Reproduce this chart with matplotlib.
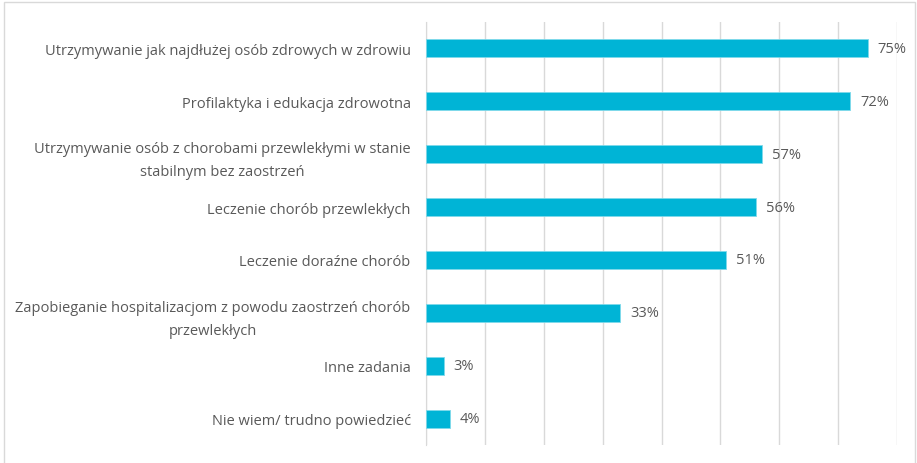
import matplotlib.pyplot as plt
from matplotlib.patches import Rectangle

categories = [
    "Utrzymywanie jak najdłużej osób zdrowych w zdrowiu",
    "Profilaktyka i edukacja zdrowotna",
    "Utrzymywanie osób z chorobami przewlekłymi w stanie\nstabilnym bez zaostrzeń",
    "Leczenie chorób przewlekłych",
    "Leczenie doraźne chorób",
    "Zapobieganie hospitalizacjom z powodu zaostrzeń chorób\nprzewlekłych",
    "Inne zadania",
    "Nie wiem/ trudno powiedzieć",
]
values = [0.75, 0.72, 0.57, 0.56, 0.51, 0.33, 0.03, 0.04]

bar_color = "#00B4D6"
text_color = "#595959"
grid_color = "#D9D9D9"

plt.rcParams["font.family"] = ["Open Sans", "DejaVu Sans"]

fig = plt.figure(figsize=(9.17, 4.64), dpi=100)
ax = fig.add_axes([426 / 917, 1 - 446 / 464, (897 - 426) / 917, (446 - 23) / 464])

y = list(range(len(categories)))
ax.barh(y, values, height=0.34, color=bar_color, edgecolor="#7FD9EA", linewidth=0.6, zorder=3)

for yi, v in zip(y, values):
    ax.text(v + 0.017, yi, f"{round(v * 100)}%", va="center", ha="left",
            fontsize=10.5, color=text_color)

ax.set_xlim(0, 0.8)
ax.set_ylim(len(categories) - 0.5, -0.5)
ax.set_xticks([i / 10 for i in range(9)])
ax.xaxis.grid(True, color=grid_color, linewidth=1, zorder=0)
ax.tick_params(axis="x", length=0, labelbottom=False)
ax.set_yticks(y)
ax.set_yticklabels(categories, fontsize=10.5, color=text_color, linespacing=1.7,
                   multialignment="center")
ax.tick_params(axis="y", length=0, pad=11)
for side in ["top", "right", "bottom"]:
    ax.spines[side].set_visible(False)
ax.spines["left"].set_color(grid_color)

# outer chart frame
fig.patches.append(Rectangle((4 / 917, -0.01), 911 / 917, 1 - 3 / 464 + 0.01,
                             transform=fig.transFigure, fill=False,
                             edgecolor="#D9D9D9", linewidth=1))

fig.savefig("out.png", dpi=100)
